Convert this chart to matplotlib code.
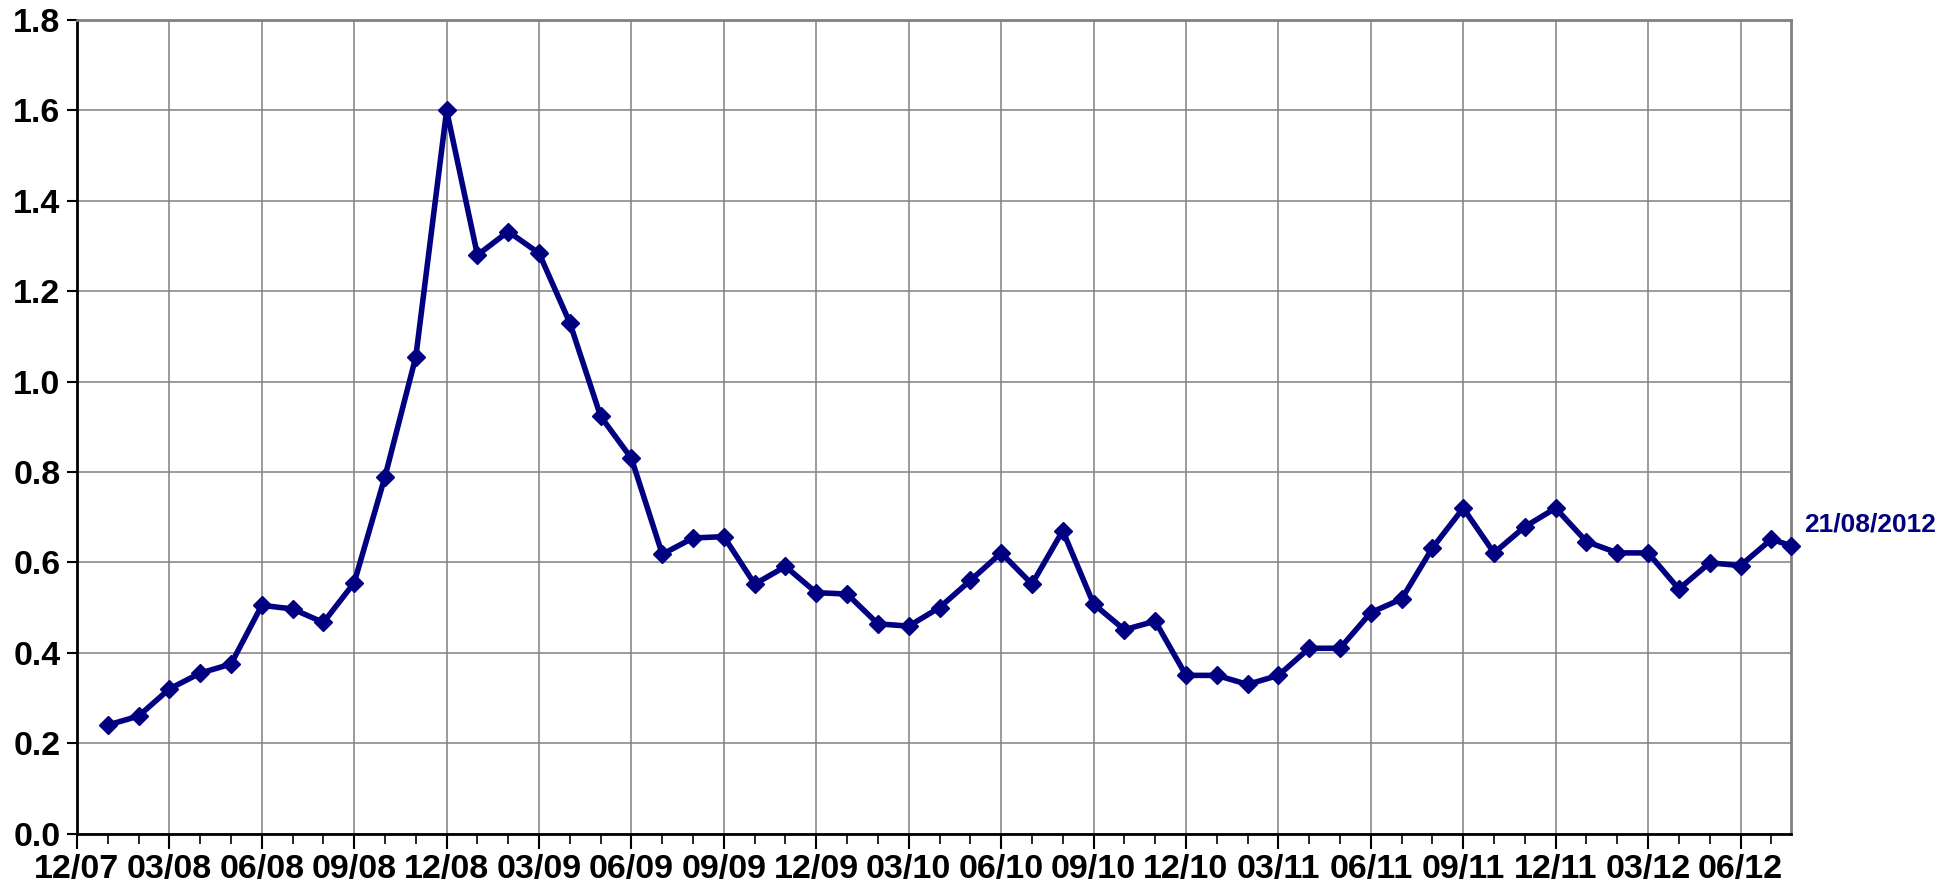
import matplotlib
matplotlib.use("Agg")
import matplotlib.pyplot as plt
from matplotlib.ticker import MultipleLocator, FixedLocator

# month offsets from 12/07 (last point is 21/08/2012)
months = list(range(1, 56)) + [55 + 20 / 31]
values = [0.24, 0.26, 0.32, 0.355, 0.375, 0.505, 0.497, 0.467, 0.555, 0.79,
          1.055, 1.60, 1.28, 1.332, 1.284, 1.13, 0.923, 0.83, 0.618, 0.654,
          0.657, 0.552, 0.591, 0.533, 0.53, 0.464, 0.459, 0.50, 0.56, 0.621,
          0.552, 0.67, 0.508, 0.451, 0.47, 0.35, 0.35, 0.33, 0.35, 0.41,
          0.41, 0.489, 0.519, 0.632, 0.72, 0.621, 0.679, 0.72, 0.646, 0.621,
          0.621, 0.541, 0.599, 0.593, 0.651, 0.637]
tick_labels = ["12/07", "03/08", "06/08", "09/08", "12/08", "03/09", "06/09",
               "09/09", "12/09", "03/10", "06/10", "09/10", "12/10", "03/11",
               "06/11", "09/11", "12/11", "03/12", "06/12"]
last_label = "21/08/2012"

font = ["Liberation Sans", "DejaVu Sans"]
navy = "#000080"

fig = plt.figure(figsize=(19.48, 8.94), dpi=100)
ax = fig.add_axes([0.0395, 0.0676, 0.88, 0.91])

ax.plot(months, values, color=navy, lw=4, marker="D", ms=9, zorder=3,
        clip_on=False)

ax.set_xlim(0, months[-1])
ax.set_ylim(0, 1.8)
ax.xaxis.set_major_locator(FixedLocator([3 * i for i in range(len(tick_labels))]))
ax.xaxis.set_minor_locator(MultipleLocator(1))
ax.set_xticklabels(tick_labels)
ax.yaxis.set_major_locator(MultipleLocator(0.2))
ax.set_yticklabels([f"{v:.1f}" for v in ax.get_yticks()])

for lab in ax.get_xticklabels() + ax.get_yticklabels():
    lab.set_family(font)
    lab.set_fontweight("bold")
    lab.set_fontsize(24.5)

ax.tick_params(axis="x", which="major", length=11, width=1.5, pad=4)
ax.tick_params(axis="x", which="minor", length=7, width=1.2)
ax.tick_params(axis="y", length=7, width=1.5, pad=5)

ax.grid(True, which="major", color="#808080", lw=1.1)
ax.set_axisbelow(True)
for side in ["left", "bottom"]:
    ax.spines[side].set_linewidth(2)
    ax.spines[side].set_color("black")
for side in ["top", "right"]:
    ax.spines[side].set_linewidth(2)
    ax.spines[side].set_color("#808080")

ax.annotate(last_label, (months[-1], values[-1]), xytext=(9, 15),
            textcoords="offset points", color=navy, fontsize=19,
            fontweight="bold", family=font, va="center", ha="left",
            annotation_clip=False)

fig.savefig("out.png", dpi=100)
